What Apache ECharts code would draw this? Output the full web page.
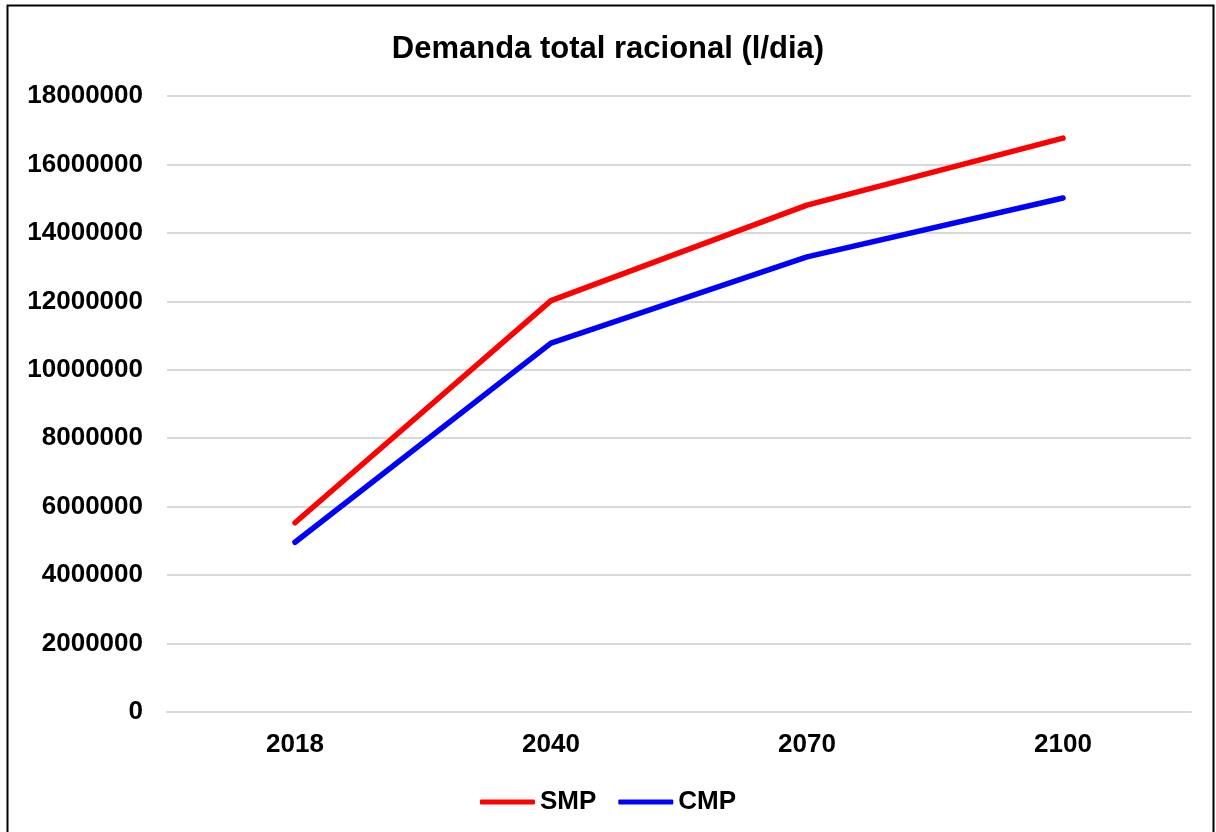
<!DOCTYPE html>
<html>
<head>
<meta charset="utf-8">
<script src="https://cdn.jsdelivr.net/npm/echarts@6/dist/echarts.min.js"></script>
<style>
html, body { margin: 0; padding: 0; background: #fff; }
#main { width: 1216px; height: 832px; }
</style>
</head>
<body>
<div id="main"></div>
<script>
// dados
var anos = ['2018', '2040', '2070', '2100'];
var smp = [5530000, 12020000, 14810000, 16770000];
var cmp = [4960000, 10780000, 13300000, 15020000];

var chart = echarts.init(document.getElementById('main'));
var fonte = '"Liberation Sans", Arial, sans-serif';

var option = {
    animation: false,
    textStyle: { fontFamily: fonte },
    graphic: [{
        type: 'rect',
        shape: { x: 7.5, y: 5.5, width: 1206, height: 830 },
        style: { fill: 'none', stroke: '#000', lineWidth: 2 },
        silent: true
    }],
    title: {
        text: 'Demanda total racional (l/dia)',
        left: 'center',
        top: 29,
        textStyle: { fontSize: 31, fontWeight: 'bold', color: '#000', fontFamily: fonte }
    },
    grid: { left: 167, right: 25, top: 96, bottom: 120 },
    legend: {
        bottom: 12,
        left: 'center',
        icon: 'roundRect',
        itemWidth: 55,
        itemHeight: 5,
        itemGap: 22,
        textStyle: { fontSize: 26, fontWeight: 'bold', color: '#000', fontFamily: fonte },
        data: ['SMP', 'CMP']
    },
    xAxis: {
        type: 'category',
        data: anos,
        boundaryGap: true,
        axisLine: { lineStyle: { color: '#d9d9d9', width: 2 } },
        axisTick: { show: false },
        axisLabel: { fontSize: 26, fontWeight: 'bold', color: '#000', margin: 20, fontFamily: fonte }
    },
    yAxis: {
        type: 'value',
        min: 0,
        max: 18000000,
        interval: 2000000,
        axisLine: { show: false },
        axisTick: { show: false },
        splitLine: { lineStyle: { color: '#d9d9d9', width: 2 } },
        axisLabel: {
            fontSize: 26, fontWeight: 'bold', color: '#000', margin: 24, fontFamily: fonte,
            formatter: function (v) { return String(v); }
        }
    },
    series: [{
        name: 'SMP',
        type: 'line',
        data: smp,
        symbol: 'none',
        color: '#ff0000',
        lineStyle: { color: '#ff0000', width: 5.5, cap: 'round' }
    }, {
        name: 'CMP',
        type: 'line',
        data: cmp,
        symbol: 'none',
        color: '#0000ff',
        lineStyle: { color: '#0000ff', width: 5.5, cap: 'round' }
    }]
};

chart.setOption(option);
</script>
</body>
</html>
